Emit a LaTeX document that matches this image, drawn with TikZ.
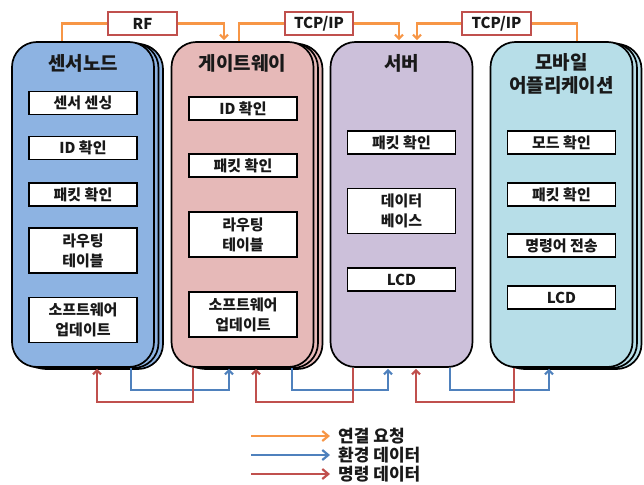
\documentclass[tikz,border=0pt]{standalone}
\usepackage{fontspec}
\setmainfont{Noto Sans CJK KR}
\usetikzlibrary{arrows.meta,shadows,calc}
\definecolor{cSN}{RGB}{141,179,226}
\definecolor{cGW}{RGB}{230,185,184}
\definecolor{cSV}{RGB}{204,192,218}
\definecolor{cMB}{RGB}{183,222,232}
\definecolor{cOr}{RGB}{247,150,70}
\definecolor{cBl}{RGB}{79,129,189}
\definecolor{cRd}{RGB}{192,80,77}
\definecolor{cTx}{RGB}{25,25,25}
\begin{document}
\begin{tikzpicture}[x=1pt,y=-1pt,
  container/.style={draw=black, line width=1.7pt, rounded corners=25pt,
    minimum width=142pt, minimum height=325pt, inner sep=0pt, fill=#1},
  stacked/.style={
    copy shadow={shadow xshift=9pt, shadow yshift=-2pt, fill=#1, draw=black, line width=1.7pt},
    copy shadow={shadow xshift=4.5pt, shadow yshift=-1pt, fill=#1, draw=black, line width=1.7pt}},
  item/.style={draw=black, fill=white, line width=1.5pt, minimum width=108pt, inner sep=0pt,
    align=center, text=cTx, font=\fontsize{15}{20}\selectfont\bfseries},
  one/.style={item, minimum height=23pt},
  two/.style={item, minimum height=45pt},
  title/.style={align=center, text=cTx, font=\fontsize{19}{23}\selectfont\bfseries},
  lbl/.style={draw=cRd, line width=1.6pt, fill=white, minimum height=23pt, inner sep=0pt,
    text=cTx, font=\fontsize{15}{16}\selectfont\bfseries},
  tip/.style={-{Straight Barb[length=4pt,width=8pt]}},
  oline/.style={draw=cOr, line width=2.2pt},
  bline/.style={draw=cBl, line width=2.2pt},
  rline/.style={draw=cRd, line width=2.2pt},
  legtip/.style={-{Straight Barb[length=6pt,width=10pt]}},
  legtext/.style={anchor=west, inner sep=0pt, text=cTx, font=\fontsize{17}{18}\selectfont\bfseries}
]
\useasboundingbox (0,0) rectangle (644,484);

% containers
\node[container=cSN, stacked=cSN] (sn) at (83,204.5) {};
\node[container=cGW, stacked=cGW] (gw) at (242.5,204.5) {};
\node[container=cSV] (sv) at (401.5,204.5) {};
\node[container=cMB, stacked=cMB] (mb) at (561.5,204.5) {};

% titles
\node[title] (snT) at (83,63) {센서노드};
\node[title] (gwT) at (242.5,63) {게이트웨이};
\node[title] (svT) at (401.5,63) {서버};
\node[title] (mbT) at (561.5,73.5) {모바일\\어플리케이션};

% sensor node items
\node[one] (sn1) at (83,103) {센서 센싱};
\node[one] (sn2) at (83,148) {ID 확인};
\node[one] (sn3) at (83,194.5) {패킷 확인};
\node[two] (sn4) at (83,250.5) {라우팅\\테이블};
\node[two] (sn5) at (83,320) {소프트웨어\\업데이트};

% gateway items
\node[one] (gw1) at (243,108.5) {ID 확인};
\node[one] (gw2) at (243,165.5) {패킷 확인};
\node[two] (gw3) at (243,234.5) {라우팅\\테이블};
\node[two] (gw4) at (243,314.5) {소프트웨어\\업데이트};

% server items
\node[one] (sv1) at (401.5,142.5) {패킷 확인};
\node[two] (sv2) at (401.5,211) {데이터\\베이스};
\node[one] (sv3) at (401.5,279.5) {LCD};

% mobile items
\node[one] (mb1) at (561.5,142.5) {모드 확인};
\node[one] (mb2) at (561.5,194.5) {패킷 확인};
\node[one] (mb3) at (561.5,245.5) {명령어 전송};
\node[one] (mb4) at (561.5,297.5) {LCD};

% protocol labels
\node[lbl, minimum width=69pt] (rf) at (142.5,23.5) {RF};
\node[lbl, minimum width=68pt] (tcp1) at (319,23.5) {TCP/IP};
\node[lbl, minimum width=69pt] (tcp2) at (496.5,23.5) {TCP/IP};

% orange connection requests
\draw[oline] ([xshift=-21pt]sn.north) |- (rf.west);
\draw[oline, tip] (rf.east) -| ([xshift=-18.5pt,yshift=1pt]gw.north);
\draw[oline] ([xshift=-3.5pt]gw.north) |- (tcp1.west);
\draw[oline, tip] (tcp1.east) -| ([xshift=-2.5pt,yshift=1pt]sv.north);
\draw[oline] ([xshift=15.5pt]mb.north) |- (tcp2.east);
\draw[oline, tip] (tcp2.west) -| ([xshift=15.5pt,yshift=1pt]sv.north);

% blue environment data
\draw[bline, tip] ([xshift=48pt]sn.south) -- ++(0,22) -| ([xshift=-13.5pt,yshift=-1pt]gw.south);
\draw[bline, tip] ([xshift=49.5pt]gw.south) -- ++(0,22) -| ([xshift=-13.5pt,yshift=-1pt]sv.south);
\draw[bline, tip] ([xshift=48.5pt]sv.south) -- ++(0,22) -| ([xshift=-12.5pt,yshift=-1pt]mb.south);

% red command data
\draw[rline, tip] ([xshift=-49.5pt]gw.south) -- ++(0,34) -| ([xshift=14pt,yshift=-1pt]sn.south);
\draw[rline, tip] ([xshift=-48.5pt]sv.south) -- ++(0,34) -| ([xshift=13.5pt,yshift=-1pt]gw.south);
\draw[rline, tip] ([xshift=-47.5pt]mb.south) -- ++(0,34) -| ([xshift=14.5pt,yshift=-1pt]sv.south);

% legend
\node[legtext] (lt1) at (338,436) {연결 요청};
\node[legtext] (lt2) at (338,455) {환경 데이터};
\node[legtext] (lt3) at (338,474) {명령 데이터};
\coordinate (la1) at (251,436);
\coordinate (la2) at (251,455);
\coordinate (la3) at (251,474);
\draw[oline, legtip] (la1) -- ([xshift=-8pt]lt1.west);
\draw[bline, legtip] (la2) -- ([xshift=-8pt]lt2.west);
\draw[rline, legtip] (la3) -- ([xshift=-8pt]lt3.west);
\end{tikzpicture}
\end{document}
